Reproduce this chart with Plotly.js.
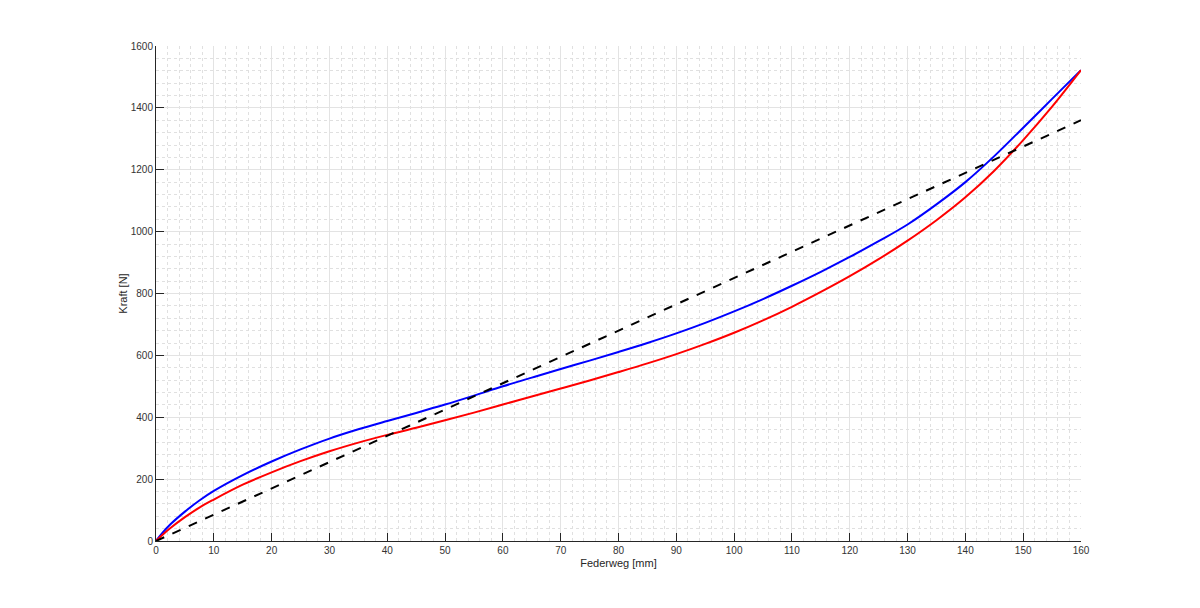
<!DOCTYPE html>
<html>
<head>
<meta charset="utf-8">
<script src="https://cdn.plot.ly/plotly-3.0.1.min.js"></script>
<style>html,body{margin:0;padding:0;background:#fff;}#chart{width:1200px;height:608px;}</style>
</head>
<body>
<div id="chart"></div>
<script>
// Federweg [mm]
const federweg = [0,1,2.5,5,7.5,10,15,20,25,30,35,40,45,50,55,60,65,70,75,80,85,90,95,100,105,110,115,120,125,130,135,140,145,150,155,160];
// Kraft [N] - blue curve
const kraftBlau = [0,24,54,95,131,162,213,257,296,331,361,388,414,441,470,500,528,556,583,611,640,671,705,742,782,825,870,918,969,1023,1088,1160,1244,1336,1429,1522];
// Kraft [N] - red curve
const kraftRot = [0,18,42,77,108,134,182,222,258,290,318,343,366,390,415,441,467,493,519,546,574,604,637,673,713,757,805,856,911,971,1037,1111,1197,1296,1404,1522];
// Linear reference (dashed)
const linearX = [0,160];
const linearY = [0,1360];

const xTicks = [0,10,20,30,40,50,60,70,80,90,100,110,120,130,140,150,160];
const yTicks = [0,200,400,600,800,1000,1200,1400,1600];

const traces = [
  {x: federweg, y: kraftBlau, type:'scatter', mode:'lines', line:{color:'#0000ff', width:2, shape:'spline', smoothing:1, simplify:false}, hoverinfo:'skip'},
  {x: federweg, y: kraftRot, type:'scatter', mode:'lines', line:{color:'#ff0000', width:2, shape:'spline', smoothing:1, simplify:false}, hoverinfo:'skip'},
  {x: linearX, y: linearY, type:'scatter', mode:'lines', line:{color:'#000000', width:2, dash:'dash'}, hoverinfo:'skip'}
];

const fontFam = 'Liberation Sans, Arial, sans-serif';
const axisCommon = {
  showline: true, linecolor:'#262626', linewidth:1,
  ticks:'inside', ticklen:8, tickwidth:1, tickcolor:'#262626',
  tickfont:{family:fontFam, size:10, color:'#333333'},
  showgrid:true, gridcolor:'#e3e3e3', gridwidth:1,
  zeroline:false, mirror:false, fixedrange:true
};

const layout = {
  width:1200, height:608,
  margin:{l:156, r:119, t:46, b:67},
  paper_bgcolor:'#ffffff', plot_bgcolor:'#ffffff',
  showlegend:false,
  xaxis: Object.assign({}, axisCommon, {
    range:[0,160], tickvals:xTicks, ticktext:xTicks.map(String),
    minor:{dtick:2, showgrid:true, gridcolor:'#e0e0e0', griddash:'dot', gridwidth:1, ticks:''},
    title:{text:'Federweg [mm]', font:{family:fontFam, size:11, color:'#262626'}, standoff:4}
  }),
  yaxis: Object.assign({}, axisCommon, {
    range:[0,1600], tickvals:yTicks, ticktext:yTicks.map(String),
    minor:{dtick:40, showgrid:true, gridcolor:'#e0e0e0', griddash:'dot', gridwidth:1, ticks:''},
    title:{text:'Kraft [N]', font:{family:fontFam, size:11, color:'#262626'}, standoff:0}
  })
};

Plotly.newPlot('chart', traces, layout, {displayModeBar:false, staticPlot:true});
</script>
</body>
</html>
